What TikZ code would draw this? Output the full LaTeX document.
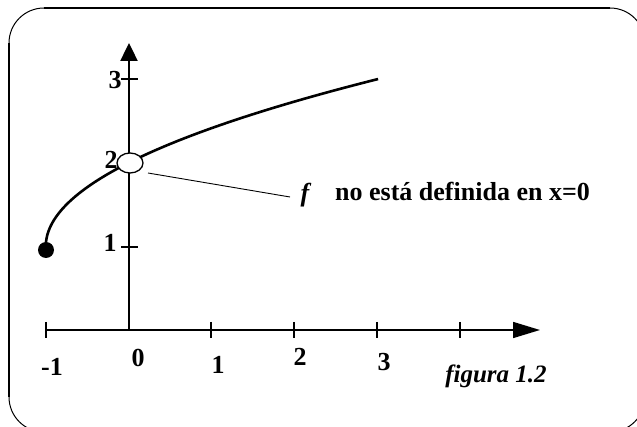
\documentclass[tikz,border=0pt]{standalone}
\usepackage{fontspec}
\setmainfont{Liberation Serif}
\usetikzlibrary{arrows.meta,shapes.geometric}
\begin{document}
\begin{tikzpicture}[x=1pt,y=-1pt,
  axisline/.style={line width=2.4pt},
  tickline/.style={line width=2pt},
  lbl/.style={font=\fontsize{26}{26}\selectfont\bfseries, inner sep=0pt},
  framethin/.style={line width=1pt},
  framethick/.style={line width=2.6pt}]
\useasboundingbox (0,0) rectangle (637,427);
% frame
\begin{scope}
\clip (0,0) rectangle (637,427);
\draw[framethin, rounded corners=35pt] (9,8) rectangle (645,432);
\end{scope}
\coordinate (ft1) at (44,8);
\coordinate (ft2) at (610,8);
\coordinate (fl1) at (9,43);
\coordinate (fl2) at (9,397);
\draw[framethick] (ft1) -- (ft2);
\draw[framethick] (fl1) -- (fl2);
% axes
\coordinate (O) at (129,330);
\coordinate (xs) at (46,330);
\coordinate (x4) at (460,330);
\coordinate (xe) at (540,330);
\coordinate (ye) at (129,43);
\draw[axisline] (xs) -- (x4);
\draw[line width=1.6pt, -{Triangle[length=27pt,width=16pt]}] (x4) -- (xe);
\draw[axisline, -{Triangle[length=18pt,width=17pt]}] (O) -- (ye);
% ticks
\foreach \xx in {46,211,294,377,460} \draw[tickline] (\xx,322) -- (\xx,338);
\foreach \yy in {79,247} \draw[tickline] (121,\yy) -- (138,\yy);
% curve
\draw[line width=2.6pt] plot[domain=0:2, samples=100, variable=\t] ({129+83.2*(\t*\t-1)},{330-83.7*(1+\t)});
\node[circle, fill=black, minimum size=16pt, inner sep=0pt] (dot) at (46,250) {};
\node[ellipse, draw, fill=white, line width=1.3pt, minimum width=26pt, minimum height=20pt, inner sep=0pt] (hole) at (130,163) {};
% leader
\coordinate (l1) at (148,173);
\coordinate (l2) at (290,197);
\draw[line width=0.9pt] (l1) -- (l2);
% labels
\node[lbl] (y3) at (115,80.5) {3};
\node[lbl] (y2) at (111,160) {2};
\node[lbl] (y1) at (110,243) {1};
\node[lbl] (xm1) at (52,367) {-1};
\node[lbl] (x0) at (138,357.5) {0};
\node[lbl] (x1) at (218,365) {1};
\node[lbl] (x2) at (300,357) {2};
\node[lbl] (x3) at (384,362) {3};
\node[font=\fontsize{26}{26}\selectfont\bfseries\itshape, inner sep=0pt, anchor=base] (fsym) at (305,202) {f};
\node[lbl, anchor=base west] (msg) at (335,201) {no está definida en x=0};
\node[font=\fontsize{25}{25}\selectfont\bfseries\itshape, inner sep=0pt] (cap) at (496,376) {figura 1.2};
\end{tikzpicture}
\end{document}
